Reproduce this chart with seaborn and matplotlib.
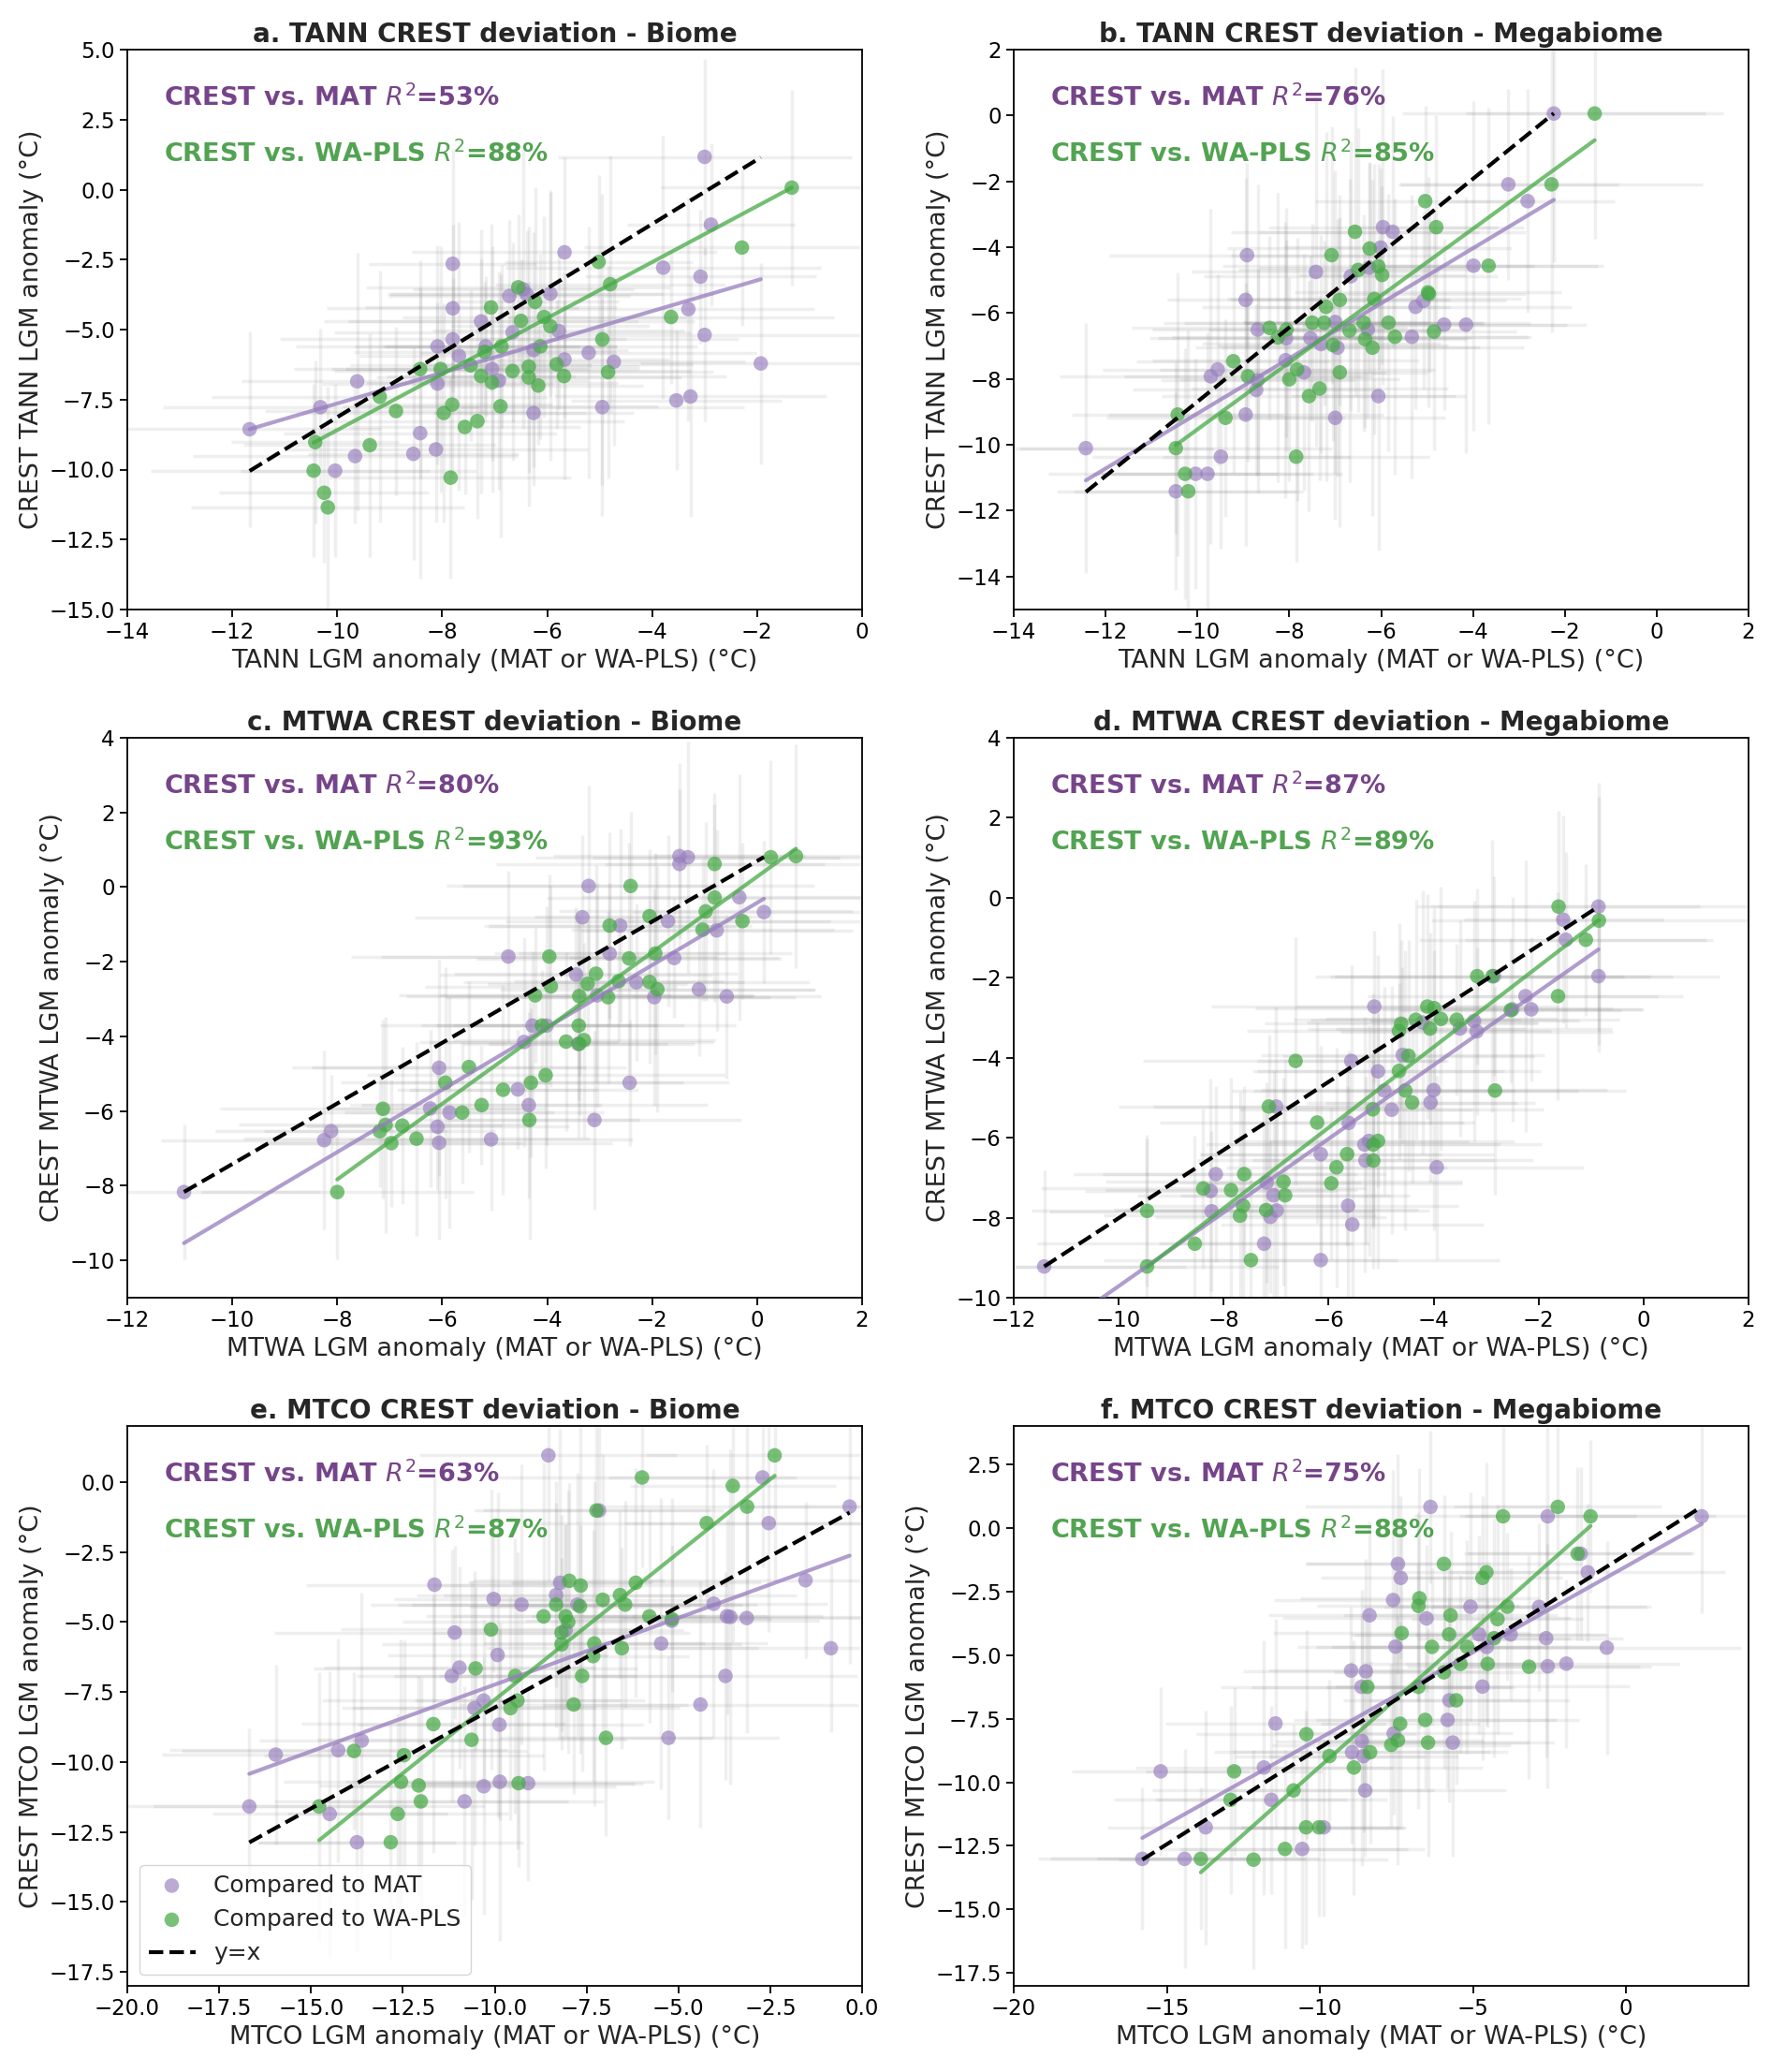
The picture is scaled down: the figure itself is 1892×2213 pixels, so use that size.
import matplotlib
matplotlib.use("Agg")
import numpy as np
import pandas as pd
import matplotlib.pyplot as plt
import seaborn as sns

# ---------------- DATA ----------------
# Panel a: TANN - Biome
a_mat_x = [-11.67,-10.32,-9.62,-10.04,-9.66,-8.42,-8.55,-8.12,-7.80,-7.80,-7.80,-8.09,-7.68,-8.09,-7.26,-7.17,-7.05,-6.92,-6.72,-6.66,
           -6.46,-6.39,-5.94,-6.26,-5.78,-5.67,-5.67,-5.21,-4.73,-6.26,-4.95,-3.79,-3.08,-3.00,-2.88,-3.31,-3.00,-3.54,-3.27,-1.93]
a_mat_y = [-8.56,-7.77,-6.85,-10.04,-9.52,-8.70,-9.44,-9.28,-2.65,-4.24,-5.35,-5.60,-5.94,-6.93,-4.71,-5.60,-6.41,-6.82,-3.80,-5.10,
           -3.56,-3.74,-3.72,-5.73,-5.05,-2.24,-6.07,-5.83,-6.15,-7.98,-7.77,-2.79,-3.11,1.17,-1.25,-4.27,-5.19,-7.53,-7.39,-6.21]
a_wa_x = [-1.34,-2.29,-4.80,-5.02,-3.64,-4.95,-4.84,-6.55,-6.23,-7.07,-6.50,-6.06,-5.94,-6.87,-6.13,-7.19,-8.03,-8.42,-7.46,-6.66,
          -6.35,-5.82,-5.68,-7.26,-7.05,-6.35,-6.17,-9.19,-8.88,-7.81,-7.97,-6.89,-7.57,-7.33,-10.42,-9.38,-10.45,-10.25,-10.18,-7.84]
a_wa_y = [0.07,-2.07,-3.38,-2.58,-4.55,-5.35,-6.52,-3.49,-4.01,-4.21,-4.69,-4.55,-4.88,-5.60,-5.60,-5.80,-6.41,-6.41,-6.28,-6.48,
          -6.32,-6.24,-6.66,-6.66,-6.89,-6.71,-7.00,-7.40,-7.91,-7.68,-7.98,-7.74,-8.48,-8.27,-9.02,-9.13,-10.04,-10.83,-11.35,-10.29]
a_xerr = [2.5,3.0,2.2,1.8,3.1,2.6,2.0,2.9,1.6,2.4,3.3,2.7,1.9,2.2,3.0,2.5,2.8,1.7,2.3,3.4,
          2.1,2.6,3.1,1.8,2.4,2.9,2.0,3.2,2.5,1.9,2.7,3.0,2.2,2.8,1.6,2.4,3.1,2.0,2.6,2.3]
a_yerr = [3.5,2.8,4.6,3.1,2.4,5.2,3.8,2.6,4.1,3.0,2.2,3.6,4.8,2.9,3.3,2.5,4.4,3.9,2.7,3.2,
          5.0,2.3,3.7,4.2,2.8,3.4,2.1,4.5,3.0,2.6,3.9,4.7,2.4,3.5,2.9,4.0,3.1,2.5,4.3,3.6]

# Panel b: TANN - Megabiome
b_mat_x = [-12.43,-2.24,-3.23,-2.81,-3.99,-4.63,-4.15,-5.33,-5.25,-5.08,-5.96,-5.75,-6.01,-6.66,-6.26,-7.42,-8.92,-8.95,-8.69,
           -8.07,-7.54,-7.00,-7.31,-6.95,-6.29,-8.08,-7.68,-9.56,-9.71,-8.69,-8.72,-8.95,-7.00,-6.06,-9.49,-10.04,-9.78,-10.47]
b_mat_y = [-10.10,0.06,-2.09,-2.60,-4.56,-6.35,-6.35,-6.72,-5.81,-5.63,-3.39,-3.53,-4.01,-4.88,-4.62,-4.75,-4.24,-5.60,-6.50,
           -6.76,-6.76,-6.27,-6.94,-7.05,-6.50,-7.43,-7.80,-7.71,-7.92,-8.04,-8.33,-9.08,-9.18,-8.52,-10.36,-10.88,-10.88,-11.41]
b_wa_x = [-1.35,-2.29,-5.04,-4.80,-6.57,-6.25,-7.08,-6.50,-6.06,-5.98,-3.66,-4.98,-4.96,-6.15,-6.90,-7.20,-8.43,-8.06,-8.25,-7.50,-7.24,
          -6.69,-6.38,-5.84,-6.35,-5.70,-4.85,-7.05,-6.19,-9.22,-8.90,-7.83,-8.00,-6.90,-7.34,-7.57,-10.43,-9.39,-10.47,-10.27,-10.20,-7.85]
b_wa_y = [0.06,-2.09,-2.60,-3.39,-3.53,-4.04,-4.24,-4.69,-4.58,-4.84,-4.56,-5.37,-5.42,-5.57,-5.60,-5.81,-6.45,-6.50,-6.74,-6.29,-6.29,
          -6.53,-6.29,-6.29,-6.79,-6.72,-6.56,-6.97,-7.05,-7.46,-7.92,-7.71,-8.01,-7.80,-8.29,-8.52,-9.08,-9.18,-10.10,-10.88,-11.41,-10.36]
b_xerr = [2.8,3.3,2.4,1.9,2.7,3.1,2.2,2.6,3.4,1.8,2.5,2.9,2.1,3.2,2.4,2.7,3.0,1.7,2.3,2.8,3.5,
          2.0,2.6,3.1,2.2,2.9,1.8,2.5,3.3,2.1,2.7,3.0,2.4,1.9,2.8,3.2,2.3,2.6,3.4,2.0,2.5,2.9]
b_yerr = [3.8,4.5,2.9,3.4,5.0,2.6,3.9,4.3,3.1,2.7,4.8,3.5,2.4,4.1,3.2,5.3,2.8,3.7,4.4,3.0,2.5,
          4.6,3.3,3.9,2.7,4.2,3.6,2.9,5.1,3.4,2.6,4.0,3.1,4.7,2.8,3.5,4.3,3.0,2.6,3.8,4.9,3.2]

# Panel c: MTWA - Biome
c_mat_x = [-10.92,-8.25,-8.12,-6.06,-6.23,-6.09,-6.06,-5.86,-5.07,-4.74,-4.56,-4.44,-4.28,-4.35,-4.01,-3.45,-3.33,-3.21,
           -3.41,-3.10,-3.05,-2.81,-2.61,-2.30,-2.43,-1.96,-1.70,-1.58,-1.48,-1.32,-1.48,-1.11,-0.77,-0.58,-0.34,0.13]
c_mat_y = [-8.17,-6.78,-6.54,-4.84,-5.93,-6.42,-6.85,-6.04,-6.76,-1.86,-5.42,-4.15,-3.71,-5.84,-3.71,-2.34,-0.81,0.03,
           -4.20,-6.24,-2.90,-1.78,-1.03,-2.55,-5.24,-2.95,-0.91,-1.90,0.83,0.80,0.62,-2.74,-1.16,-2.93,-0.27,-0.67]
c_wa_x = [-8.00,-7.13,-7.19,-7.08,-6.76,-6.97,-6.49,-5.94,-5.62,-5.49,-5.25,-4.84,-4.31,-4.03,-4.34,-4.23,-3.96,-3.93,-4.10,-3.64,-3.40,
          -3.39,-3.30,-3.39,-3.23,-3.07,-2.84,-2.64,-2.81,-2.44,-2.41,-2.05,-1.94,-2.05,-1.90,-1.04,-0.98,-0.81,-0.81,-0.28,0.26,0.74]
c_wa_y = [-8.17,-5.94,-6.54,-6.37,-6.39,-6.86,-6.74,-5.24,-6.04,-4.82,-5.84,-5.43,-5.24,-5.04,-6.24,-2.90,-1.86,-2.66,-3.71,-4.14,-3.71,
          -4.20,-4.10,-2.92,-2.59,-2.32,-2.95,-2.52,-1.03,-1.91,0.03,-0.78,-1.78,-2.54,-2.74,-1.14,-0.65,-0.28,0.62,-0.91,0.80,0.83]
c_xerr = [2.6,3.1,2.2,2.8,1.9,2.5,3.3,2.0,2.7,3.0,2.3,1.8,2.9,3.4,2.1,2.6,3.2,2.4,1.7,2.8,3.0,
          2.2,2.5,3.3,1.9,2.7,3.1,2.0,2.4,2.9,3.5,2.2,2.6,1.8,3.0,2.5,2.8,3.2,2.1,2.4,3.4,2.7]
c_yerr = [1.8,2.4,1.5,2.9,2.1,1.7,2.6,3.1,1.9,2.3,1.6,2.8,2.0,2.5,3.2,1.8,2.2,2.7,1.5,2.4,3.0,
          1.9,2.6,2.1,1.7,2.9,2.3,1.6,2.5,3.1,2.0,1.8,2.7,2.2,3.3,1.9,2.4,2.8,1.6,2.1,2.6,3.0]

# Panel d: MTWA - Megabiome
d_mat_x = [-11.42,-0.86,-0.86,-1.53,-1.48,-2.25,-2.14,-2.50,-2.85,-3.23,-3.18,-3.50,-4.21,-5.13,-5.57,-5.06,-4.59,-4.00,-4.06,-4.94,
           -4.80,-5.62,-7.00,-5.23,-5.32,-5.30,-6.15,-3.94,-5.63,-5.55,-6.15,-7.23,-8.15,-8.25,-8.23,-7.18,-7.05,-6.99,-7.11]
d_mat_y = [-9.22,-0.22,-1.96,-0.55,-1.05,-2.46,-2.79,-2.79,-1.96,-3.08,-3.34,-3.27,-3.12,-2.72,-4.08,-4.34,-3.93,-4.81,-5.12,-4.82,
           -5.30,-5.63,-5.22,-6.08,-6.17,-6.57,-6.41,-6.74,-7.70,-8.17,-9.06,-8.65,-6.91,-7.33,-7.84,-7.12,-7.44,-7.82,-7.98]
d_wa_x = [-1.62,-0.85,-1.10,-1.63,-3.17,-2.88,-2.53,-4.12,-3.99,-4.34,-4.62,-4.66,-3.86,-3.56,-4.07,-4.48,-4.66,-4.54,-4.41,-2.83,-6.63,
          -7.14,-6.22,-5.16,-5.06,-5.15,-5.15,-5.65,-5.85,-5.95,-6.86,-6.83,-7.61,-7.86,-8.39,-7.63,-7.69,-7.19,-9.46,-8.55,-9.46,-7.48]
d_wa_y = [-0.22,-0.57,-1.05,-2.46,-1.96,-1.96,-2.81,-2.72,-2.76,-3.05,-3.15,-3.33,-3.03,-3.05,-3.27,-3.95,-4.33,-4.82,-5.12,-4.82,-4.08,
          -5.22,-5.62,-5.29,-6.08,-6.17,-6.57,-6.41,-6.74,-7.14,-7.10,-7.44,-6.91,-7.31,-7.27,-7.70,-7.95,-7.81,-7.83,-8.65,-9.22,-9.06]
d_xerr = [2.7,3.2,2.3,1.9,2.8,3.0,2.1,2.5,3.4,2.0,2.6,2.9,2.2,3.1,1.8,2.4,2.7,3.3,2.0,2.5,2.9,
          2.2,3.0,1.9,2.6,3.2,2.3,2.8,2.1,2.5,3.4,2.0,2.7,2.4,3.1,1.8,2.6,2.9,2.2,3.0,2.5,2.8]
d_yerr = [2.4,3.1,1.9,2.6,2.2,3.4,1.8,2.8,2.5,3.0,2.1,2.7,3.3,1.9,2.4,2.9,2.2,3.5,2.0,2.6,3.1,
          1.8,2.5,2.9,3.2,2.1,2.7,2.3,3.0,1.9,2.6,3.4,2.2,2.8,2.0,2.5,3.1,2.4,1.9,2.7,3.2,2.3]

# Panel e: MTCO - Biome
e_mat_x = [-8.54,-2.71,-0.34,-2.54,-1.54,-4.04,-3.68,-3.59,-3.14,-0.85,-5.47,-3.72,-4.40,-5.27,-8.22,-8.33,-7.75,-8.07,-10.03,-9.27,
           -11.64,-11.09,-9.92,-10.96,-11.17,-10.30,-10.55,-9.87,-13.62,-14.26,-15.96,-10.30,-9.86,-9.09,-10.82,-16.68,-14.49,-13.75,-5.18,-7.16]
e_mat_y = [0.95,0.16,-0.88,-1.47,-3.51,-4.35,-4.80,-4.82,-4.86,-5.94,-5.77,-6.93,-7.95,-9.14,-3.60,-4.04,-4.38,-5.30,-4.18,-4.38,
           -3.67,-5.38,-6.18,-6.63,-6.93,-7.81,-8.08,-8.67,-9.24,-9.58,-9.74,-10.87,-10.71,-10.76,-11.41,-11.59,-11.86,-12.87,-4.96,-1.02]
e_wa_x = [-2.38,-5.99,-3.52,-3.13,-4.23,-7.23,-7.97,-7.66,-6.16,-6.59,-7.06,-6.45,-8.33,-7.68,-8.67,-8.07,-8.00,-5.79,-5.18,-10.10,-8.18,
          -8.18,-7.29,-6.54,-7.32,-10.52,-9.44,-7.62,-9.38,-9.57,-7.85,-11.67,-10.63,-6.97,-12.47,-13.83,-12.55,-12.07,-12.01,-9.35,-14.78,-12.64,
          -12.83]
e_wa_y = [0.95,0.16,-0.14,-0.88,-1.47,-1.02,-3.53,-3.70,-3.60,-4.04,-4.21,-4.38,-4.38,-4.44,-4.80,-4.80,-5.00,-4.80,-4.89,-5.27,-5.38,
          -5.80,-5.77,-5.94,-6.22,-6.66,-6.93,-6.93,-7.81,-8.08,-7.95,-8.65,-9.21,-9.14,-9.76,-9.61,-10.71,-10.84,-11.41,-10.76,-11.59,-11.86,
          -12.87]
e_xerr = [3.5,4.2,2.8,3.9,4.6,3.1,2.6,4.0,3.4,4.8,2.9,3.6,4.3,3.0,2.5,3.8,4.5,3.2,2.7,4.1,3.5,
          4.9,3.0,3.7,2.6,4.4,3.3,3.9,2.8,4.6,3.1,3.6,4.2,2.9,3.8,4.7,3.2,2.7,4.0,3.4,4.5,3.0,3.6]
e_yerr = [4.5,3.2,5.6,3.9,2.8,4.8,3.5,6.0,4.1,3.0,5.2,3.7,4.4,2.9,5.5,3.3,4.7,3.8,2.6,5.0,4.2,
          3.1,5.8,3.6,4.5,2.9,4.9,3.4,5.3,4.0,3.2,4.6,5.7,3.5,4.1,2.8,5.1,3.9,4.4,3.0,4.8,3.6,4.2]

# Panel f: MTCO - Megabiome
f_mat_x = [2.47,-6.39,-2.56,-1.48,-1.25,-7.45,-7.36,-7.61,-8.38,-6.52,-5.08,-2.84,-4.80,-3.77,-2.61,-4.55,-0.63,-7.53,-8.98,-8.50,
           -8.64,-4.69,-2.56,-1.95,-5.77,-5.83,-5.66,-7.59,-8.63,-8.95,-8.58,-11.45,-11.83,-15.20,-11.59,-8.52,-13.73,-9.88,-10.58,-15.80,-14.42]
f_mat_y = [0.45,0.82,0.45,-1.02,-1.75,-1.42,-1.97,-2.84,-3.44,-3.56,-3.10,-3.11,-4.19,-4.19,-4.34,-4.68,-4.71,-4.67,-5.61,-5.64,
           -6.25,-6.24,-5.44,-5.34,-6.78,-7.55,-8.44,-8.08,-8.38,-8.82,-8.97,-7.69,-9.42,-9.57,-10.69,-10.32,-11.77,-11.77,-12.62,-13.01,-13.01]
f_wa_x = [-2.23,-1.16,-4.02,-1.58,-5.95,-4.56,-4.69,-6.75,-6.78,-3.88,-4.20,-5.73,-7.33,-5.78,-4.31,-6.34,-5.19,-5.41,-4.52,-3.17,-5.95,
          -8.45,-6.78,-5.55,-7.38,-6.56,-6.47,-7.67,-7.45,-8.36,-9.69,-10.44,-8.89,-12.80,-12.92,-10.86,-10.45,-10.03,-11.14,-13.89,-12.17]
f_wa_y = [0.82,0.45,0.45,-1.02,-1.42,-1.75,-1.97,-2.77,-3.07,-3.10,-3.59,-3.44,-4.14,-4.19,-4.34,-4.68,-4.68,-5.35,-5.35,-5.46,-5.68,
          -6.25,-6.25,-6.78,-7.70,-7.55,-8.44,-8.53,-8.35,-8.82,-8.97,-8.11,-9.42,-9.57,-10.69,-10.32,-11.77,-11.77,-12.62,-13.01,-13.04]
f_xerr = [3.4,4.1,2.9,3.7,4.5,3.0,2.6,3.9,3.3,4.7,2.8,3.5,4.2,3.1,2.5,3.8,4.4,3.2,2.7,4.0,3.6,
          4.8,3.0,3.7,2.6,4.3,3.3,3.9,2.8,4.5,3.1,3.6,4.2,2.9,3.8,4.6,3.2,2.7,4.0,3.4,4.4]
f_yerr = [3.8,3.0,4.9,3.4,2.7,4.3,3.2,5.1,3.7,2.9,4.5,3.3,3.9,2.6,4.7,3.1,4.2,3.5,2.5,4.4,3.8,
          2.9,4.8,3.3,4.0,2.7,4.5,3.2,4.9,3.6,3.0,4.1,5.0,3.3,3.7,2.6,4.6,3.5,3.9,2.8,4.3]

# regression lines (slope, intercept)
fit_mat = {"a": (0.55, -2.14), "b": (0.836, -0.687), "c": (0.835, -0.42),
           "d": (0.921, -0.50), "e": (0.477, -2.47), "f": (0.675, -1.52)}
fit_wa = {"a": (1.00, 1.41), "b": (1.015, 0.62), "c": (1.014, 0.28),
          "d": (1.008, 0.30), "e": (1.05, 2.72), "f": (1.069, 1.31)}
ref_line = {"a": (1.15, 3.37), "b": (1.128, 2.59), "c": (0.812, 0.70),
            "d": (0.852, 0.51), "e": (0.721, -0.85), "f": (0.759, -1.05)}

r2_mat = {"a": 53, "b": 76, "c": 80, "d": 87, "e": 63, "f": 75}
r2_wa = {"a": 88, "b": 85, "c": 93, "d": 89, "e": 87, "f": 88}

panel_var = {"a": "TANN", "b": "TANN", "c": "MTWA", "d": "MTWA", "e": "MTCO", "f": "MTCO"}
panel_kind = {"a": "Biome", "b": "Megabiome", "c": "Biome", "d": "Megabiome", "e": "Biome", "f": "Megabiome"}

xlims = {"a": (-14, 0), "b": (-14, 2), "c": (-12, 2), "d": (-12, 2), "e": (-20, 0), "f": (-20, 4)}
ylims = {"a": (-15, 5), "b": (-15, 2), "c": (-11, 4), "d": (-10, 4), "e": (-18, 2), "f": (-18, 4)}
xticks = {"a": (-14, 0, 2), "b": (-14, 2, 2), "c": (-12, 2, 2), "d": (-12, 2, 2), "e": (-20, 0, 2.5), "f": (-20, 0, 5)}
yticks = {"a": (-15, 5, 2.5), "b": (-14, 2, 2), "c": (-10, 4, 2), "d": (-10, 4, 2), "e": (-17.5, 0, 2.5), "f": (-17.5, 2.5, 2.5)}

data = {
    "a": (a_mat_x, a_mat_y, a_wa_x, a_wa_y, a_xerr, a_yerr),
    "b": (b_mat_x, b_mat_y, b_wa_x, b_wa_y, b_xerr, b_yerr),
    "c": (c_mat_x, c_mat_y, c_wa_x, c_wa_y, c_xerr, c_yerr),
    "d": (d_mat_x, d_mat_y, d_wa_x, d_wa_y, d_xerr, d_yerr),
    "e": (e_mat_x, e_mat_y, e_wa_x, e_wa_y, e_xerr, e_yerr),
    "f": (f_mat_x, f_mat_y, f_wa_x, f_wa_y, f_xerr, f_yerr),
}

# ---------------- STYLE ----------------
sns.set_style("ticks")
plt.rcParams["font.family"] = ["DejaVu Sans"]
plt.rcParams["axes.edgecolor"] = "black"
plt.rcParams["xtick.color"] = "black"
plt.rcParams["ytick.color"] = "black"
plt.rcParams["axes.linewidth"] = 1.3

PURPLE = "#967dbe"
GREEN = "#46aa46"
PURPLE_TXT = "#76448a"
GREEN_TXT = "#52a352"

W, H = 1892, 2213
fig = plt.figure(figsize=(W / 100, H / 100), dpi=100)

col_left = [136, 1083]
row_top = [53, 788, 1523]
aw, ah = 785, 598

order = [["a", "b"], ["c", "d"], ["e", "f"]]

for r, row in enumerate(order):
    for c, key in enumerate(row):
        l = col_left[c]
        t = row_top[r]
        ax = fig.add_axes([l / W, 1 - (t + ah) / H, aw / W, ah / H])
        mx, my, wx, wy, xe, ye = data[key]
        # error bars
        for xs, ys in ((mx, my), (wx, wy)):
            n = len(xs)
            ax.errorbar(xs, ys, xerr=xe[:n], yerr=ye[:n], fmt="none",
                        ecolor="gray", alpha=0.12, elinewidth=2.5, capsize=0, zorder=1)
        sns.scatterplot(x=mx, y=my, color=PURPLE, alpha=0.65, s=125, edgecolor="none",
                        ax=ax, zorder=3, label="Compared to MAT")
        sns.scatterplot(x=wx, y=wy, color=GREEN, alpha=0.72, s=125, edgecolor="none",
                        ax=ax, zorder=3, label="Compared to WA-PLS")
        # fit lines
        sm, im = fit_mat[key]
        xl = np.array([min(mx), max(mx)])
        ax.plot(xl, sm * xl + im, color=PURPLE, alpha=0.75, lw=3, zorder=4)
        sw, iw = fit_wa[key]
        xg = np.array([min(wx), max(wx)])
        ax.plot(xg, sw * xg + iw, color=GREEN, alpha=0.75, lw=3, zorder=4)
        sr, ir = ref_line[key]
        ax.plot(xl, sr * xl + ir, color="black", ls="--", lw=3, zorder=5, label="y=x")

        ax.set_xlim(*xlims[key])
        ax.set_ylim(*ylims[key])
        x0, x1, dx = xticks[key]
        ax.set_xticks(np.arange(x0, x1 + dx / 2, dx))
        y0, y1, dy = yticks[key]
        ax.set_yticks(np.arange(y0, y1 + dy / 2, dy))
        ax.tick_params(labelsize=16.5, length=6, width=1.3)

        var = panel_var[key]
        ax.set_title(f"{key}. {var} CREST deviation - {panel_kind[key]}",
                     fontsize=20, fontweight="bold")
        ax.set_xlabel(f"{var} LGM anomaly (MAT or WA-PLS) (°C)", fontsize=19.5)
        ax.set_ylabel(f"CREST {var} LGM anomaly (°C)", fontsize=19.5)

        ax.text(0.05, 0.913, f"CREST vs. MAT $R^2$={r2_mat[key]}%", transform=ax.transAxes,
                color=PURPLE_TXT, fontsize=19.5, fontweight="bold", va="center", ha="left")
        ax.text(0.05, 0.813, f"CREST vs. WA-PLS $R^2$={r2_wa[key]}%", transform=ax.transAxes,
                color=GREEN_TXT, fontsize=19.5, fontweight="bold", va="center", ha="left")

        if key == "e":
            ax.legend(loc="lower left", fontsize=18, frameon=True)
        else:
            leg = ax.get_legend()
            if leg is not None:
                leg.remove()

fig.savefig("out.png", dpi=100)
